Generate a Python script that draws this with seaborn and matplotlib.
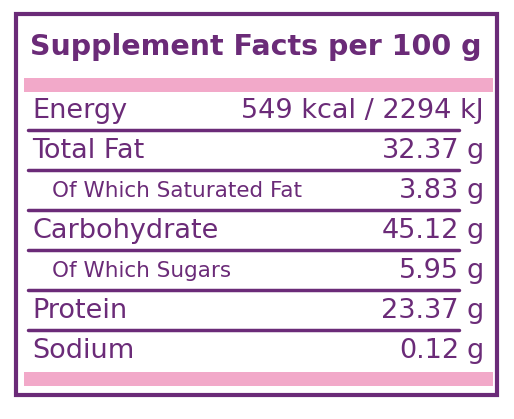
import matplotlib.pyplot as plt
import seaborn as sns

sns.set_theme(style="white")
plt.rcParams['font.family'] = ['DejaVu Sans']

title = "Supplement Facts per 100 g"
labels = ["Energy", "Total Fat", "Of Which Saturated Fat", "Carbohydrate",
          "Of Which Sugars", "Protein", "Sodium"]
values = ["549 kcal / 2294 kJ", "32.37", "3.83", "45.12", "5.95", "23.37", "0.12"]
units = ["", "g", "g", "g", "g", "g", "g"]
sub_row = [False, False, True, False, True, False, False]

purple = "#6b2b78"
pink = "#f2a9c9"

fig = plt.figure(figsize=(5.14, 4.19), dpi=100)
ax = fig.add_axes([0, 0, 1, 1])
ax.set_xlim(0, 514)
ax.set_ylim(419, 0)
ax.axis("off")

ax.add_patch(plt.Rectangle((16, 14), 481, 381, fill=False, ec=purple, lw=3))
ax.add_patch(plt.Rectangle((24, 78), 469, 14, color=pink, lw=0))
ax.add_patch(plt.Rectangle((24, 372), 469, 14, color=pink, lw=0))
ax.text(30, 47, title, color=purple, fontsize=20.5, fontweight="bold", va="center")

y0, step = 111, 40
for i, (lab, val, u, sub) in enumerate(zip(labels, values, units, sub_row)):
    y = y0 + i * step
    ax.text(52 if sub else 32, y, lab, color=purple, fontsize=15.5 if sub else 19.5, va="center")
    if u:
        ax.text(459, y, val, color=purple, fontsize=19.5, va="center", ha="right")
        ax.text(467, y, u, color=purple, fontsize=19.5, va="center")
    else:
        ax.text(484, y, val, color=purple, fontsize=19.5, va="center", ha="right")
    if i < len(labels) - 1:
        ax.plot([28, 459], [y + 19, y + 19], color=purple, lw=2.5)

fig.savefig("out.png", dpi=100)
